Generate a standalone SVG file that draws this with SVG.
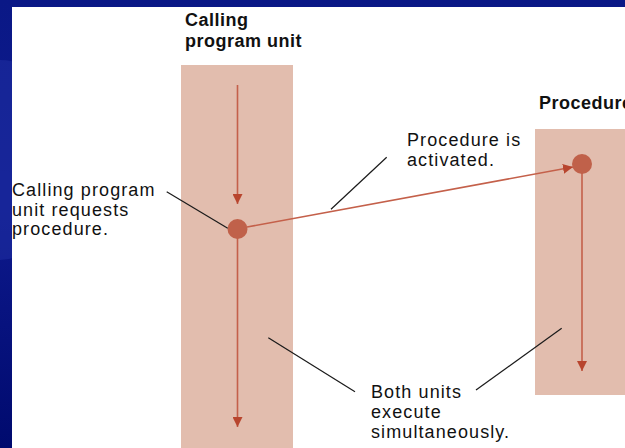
<svg xmlns="http://www.w3.org/2000/svg" width="625" height="448" viewBox="0 0 625 448">
  <style>
    .lane { fill: #e2bdae; }
    .flow { stroke: #c4604a; stroke-width: 1.6; fill: none; }
    .dot { fill: #c0614a; }
    .lead { stroke: #1a1a1a; stroke-width: 1.2; fill: none; }
    .title { font-family: "Liberation Sans", Arial, sans-serif; font-weight: bold; font-size: 18px; letter-spacing: 0.5px; fill: #111; }
    .note { font-family: "Liberation Sans", Arial, sans-serif; font-size: 18px; letter-spacing: 1.1px; fill: #111; }
  </style>
  <defs>
    <marker id="tri" viewBox="0 0 10 10" refX="10" refY="5" markerWidth="10" markerHeight="10" markerUnits="userSpaceOnUse" orient="auto">
      <path d="M0,0 L10,5 L0,10 Z" fill="#b8452e"/>
    </marker>
    <linearGradient id="bg" x1="0" y1="0" x2="0" y2="1">
      <stop offset="0" stop-color="#0a1886"/>
      <stop offset="0.45" stop-color="#0e1a8e"/>
      <stop offset="1" stop-color="#000a6e"/>
    </linearGradient>
  </defs>

  <!-- slide backdrop -->
  <rect x="0" y="0" width="625" height="448" fill="url(#bg)"/>
  <g fill="#2434a8" opacity="0.45">
    <circle cx="0" cy="120" r="60"/>
    <circle cx="0" cy="215" r="45"/>
  </g>
  <rect x="12" y="7" width="613" height="441" fill="#ffffff"/>

  <!-- calling program unit lane -->
  <g id="calling-unit">
    <rect class="lane" x="181" y="65" width="112" height="383"/>
    <text class="title" x="185" y="26">Calling</text>
    <text class="title" x="185" y="47">program unit</text>
  </g>

  <!-- procedure lane -->
  <g id="procedure">
    <rect class="lane" x="535" y="129" width="90" height="266"/>
    <text class="title" x="539" y="109">Procedure</text>
  </g>

  <!-- control flow -->
  <g id="connectors">
    <line class="flow" x1="237.5" y1="85" x2="237.5" y2="204" marker-end="url(#tri)"/>
    <line class="flow" x1="237.5" y1="238" x2="237.5" y2="427" marker-end="url(#tri)"/>
    <line class="flow" x1="247" y1="227" x2="573" y2="167" marker-end="url(#tri)"/>
    <line class="flow" x1="582" y1="172" x2="582" y2="371" marker-end="url(#tri)"/>
    <circle class="dot" cx="237.5" cy="229" r="10"/>
    <circle class="dot" cx="582" cy="164" r="10"/>

    <!-- callout leaders -->
    <line class="lead" x1="166.7" y1="191.7" x2="227.7" y2="228.3"/>
    <line class="lead" x1="386.7" y1="157.3" x2="331" y2="209.3"/>
    <line class="lead" x1="268.3" y1="337.7" x2="355" y2="391.7"/>
    <line class="lead" x1="476" y1="390" x2="561.7" y2="328.3"/>
  </g>

  <!-- callout texts -->
  <g id="note-request">
    <text class="note" x="12" y="196">Calling program</text>
    <text class="note" x="12" y="215.5">unit requests</text>
    <text class="note" x="12" y="235">procedure.</text>
  </g>
  <g id="note-activated">
    <text class="note" x="407" y="146">Procedure is</text>
    <text class="note" x="407" y="166">activated.</text>
  </g>
  <g id="note-simultaneous">
    <text class="note" x="371" y="398">Both units</text>
    <text class="note" x="371" y="418">execute</text>
    <text class="note" x="371" y="437.5">simultaneously.</text>
  </g>
</svg>
